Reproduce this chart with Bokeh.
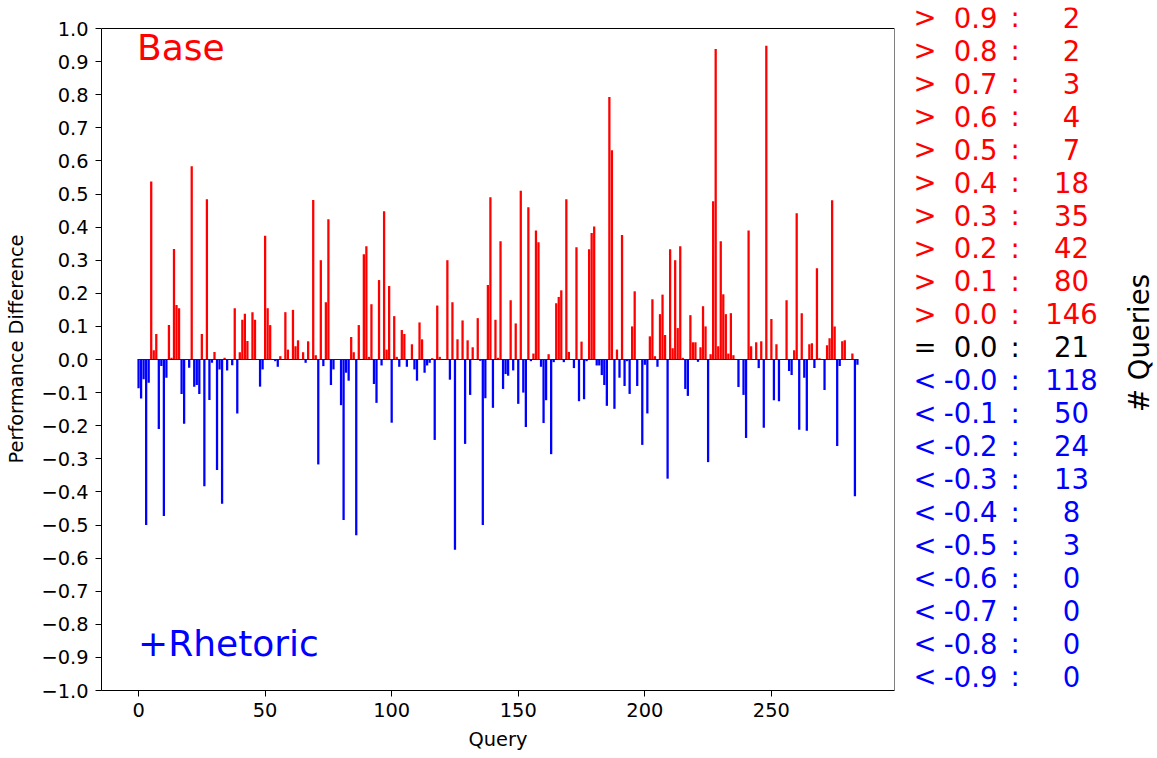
from bokeh.plotting import figure
from bokeh.models import Range1d, FixedTicker, CustomJSTickFormatter, Label, ColumnDataSource
from bokeh.layouts import row
from bokeh.embed import file_html
from bokeh.resources import INLINE
from bokeh.core.properties import value

# ---- data: performance difference per query (Base minus +Rhetoric) ----
diff = [
    -0.087, -0.118, -0.06, -0.50, -0.07, 0.538, 0.028, 0.077, -0.21, -0.02,
    -0.473, -0.055, 0.104, 0.005, 0.334, 0.165, 0.155, -0.104, -0.194, 0.0,
    -0.025, 0.584, -0.082, -0.077, -0.104, 0.077, -0.383, 0.484, -0.122, -0.01,
    0.023, -0.334, -0.03, -0.436, 0.005, -0.033, 0.0, -0.017, 0.155, -0.163,
    0.022, 0.12, 0.138, 0.056, 0.0, 0.143, 0.12, 0.0, -0.082, -0.03,
    0.374, 0.155, 0.104, 0.0, -0.005, -0.022, 0.01, 0.0, 0.143, 0.03,
    0.0, 0.15, 0.04, 0.058, 0.0, 0.022, -0.01, 0.055, 0.0, 0.482,
    0.013, -0.317, 0.30, -0.02, 0.173, 0.424, -0.077, -0.03, 0.0, 0.0,
    -0.138, -0.485, -0.04, -0.064, 0.068, 0.022, -0.531, 0.104, 0.0, 0.318,
    0.342, 0.008, 0.167, -0.074, -0.131, 0.24, -0.018, 0.448, 0.03, 0.222,
    -0.191, 0.131, 0.008, -0.022, 0.089, 0.077, -0.022, 0.0, 0.046, -0.03,
    -0.064, 0.112, 0.061, -0.04, -0.018, -0.01, 0.004, -0.243, 0.163, 0.008,
    0.0, 0.0, 0.30, -0.061, 0.173, -0.575, 0.061, 0.0, 0.118, -0.255,
    0.058, -0.107, 0.037, 0.0, 0.125, -0.004, -0.50, -0.117, 0.225, 0.49,
    -0.146, 0.12, 0.005, 0.357, -0.089, -0.044, -0.049, 0.179, -0.033, 0.109,
    -0.134, 0.51, -0.10, -0.204, 0.46, -0.005, 0.018, 0.39, 0.354, -0.022,
    -0.192, -0.123, 0.016, -0.286, -0.008, 0.17, 0.189, 0.209, -0.008, 0.484,
    0.023, 0.0, -0.026, 0.339, -0.126, 0.054, -0.12, -0.005, 0.333, 0.382,
    0.402, -0.018, -0.018, -0.047, -0.077, -0.14, 0.793, 0.632, -0.149, 0.03,
    -0.055, 0.376, -0.08, -0.005, -0.104, 0.10, 0.206, -0.08, 0.0, -0.258,
    -0.016, -0.163, 0.07, 0.182, 0.01, -0.022, 0.137, 0.196, 0.074, -0.36,
    0.333, 0.034, 0.30, 0.095, 0.342, 0.005, -0.089, -0.11, 0.134, 0.052,
    0.052, -0.007, 0.037, 0.161, 0.10, -0.31, 0.016, 0.478, 0.938, 0.04,
    0.357, 0.197, 0.137, 0.018, 0.14, 0.013, 0.0, -0.083, 0.0, -0.107,
    -0.237, 0.39, 0.04, 0.0, 0.052, -0.026, 0.055, -0.206, 0.948, 0.0,
    0.122, -0.123, 0.046, -0.126, 0.0, 0.0, 0.179, -0.035, -0.047, 0.028,
    0.442, -0.212, 0.14, -0.055, -0.215, 0.046, 0.049, -0.026, 0.276, 0.004,
    0.0, -0.092, 0.043, 0.064, 0.481, 0.10, -0.261, -0.02, 0.055, 0.058,
    0.0, 0.0, 0.018, -0.413, -0.016,
]
query = list(range(len(diff)))

y_ticks = [-1.0, -0.9, -0.8, -0.7, -0.6, -0.5, -0.4, -0.3, -0.2, -0.1, 0.0,
           0.1, 0.2, 0.3, 0.4, 0.5, 0.6, 0.7, 0.8, 0.9, 1.0]
x_ticks = [0, 50, 100, 150, 200, 250]

# ---- summary table on the right ----
signs = [">"] * 10 + ["="] + ["<"] * 10
thresholds = ["0.9", "0.8", "0.7", "0.6", "0.5", "0.4", "0.3", "0.2", "0.1", "0.0",
              "0.0",
              "-0.0", "-0.1", "-0.2", "-0.3", "-0.4", "-0.5", "-0.6", "-0.7", "-0.8", "-0.9"]
counts = [2, 2, 3, 4, 7, 18, 35, 42, 80, 146, 21, 118, 50, 24, 13, 8, 3, 0, 0, 0, 0]

RED = "#ff0000"
BLUE = "#0000ff"
FONT = "DejaVu Sans"

W, H = 1157, 758
MAIN_W = 900
X0, X1 = -14.64, 298.64
FL, FR = 101, 894          # frame left/right (page px)
FT, FB = 7, 690            # frame top/bottom (page px); y=1.0 sits at px 28
PX_PER_UNIT = (690 - 28) / 2.0
Y_TOP = 1.0 + (28 - FT) / PX_PER_UNIT


def px_x(px):
    return X0 + (px - FL) * (X1 - X0) / (FR - FL)


def px_y(py):
    return -1.0 + (FB - py) / PX_PER_UNIT


p = figure(width=MAIN_W, height=H,
           x_range=Range1d(X0, X1), y_range=Range1d(-1.0, Y_TOP),
           output_backend="svg", toolbar_location=None,
           min_border_left=FL, min_border_right=MAIN_W - FR,
           min_border_top=FT, min_border_bottom=H - FB)
p.background_fill_color = "white"
p.border_fill_color = "white"
p.outline_line_color = None
p.xgrid.visible = False
p.ygrid.visible = False

colors = [RED if v > 0 else BLUE for v in diff]
src = ColumnDataSource(dict(x=query, top=diff, color=colors))
p.vbar(x="x", top="top", bottom=0, width=0.9, fill_color="color", line_color=None, source=src)
p.line(x=[query[0] - 0.4, query[-1] + 0.4], y=[0, 0], line_color=BLUE, line_width=1)

# top and right spines of the axes box
p.segment(x0=[X0, X1], y0=[y_ticks[-1], y_ticks[0]], x1=[X1, X1], y1=[y_ticks[-1], y_ticks[-1]],
          line_color="black", line_width=1)

p.yaxis.ticker = FixedTicker(ticks=y_ticks)
p.xaxis.ticker = FixedTicker(ticks=x_ticks)
p.yaxis.bounds = (y_ticks[0], y_ticks[-1])
p.yaxis.formatter = CustomJSTickFormatter(code="""
const v = Math.round(tick * 10) / 10;
return (v < 0 ? '\u2212' : '') + Math.abs(v).toFixed(1);
""")
for ax in [p.xaxis[0], p.yaxis[0]]:
    ax.major_label_text_font = FONT
    ax.major_label_text_font_size = "19.4px"
    ax.major_label_text_color = "black"
    ax.axis_label_text_font = FONT
    ax.axis_label_text_font_size = "19.4px"
    ax.axis_label_text_font_style = "normal"
    ax.axis_label_text_color = "black"
    ax.axis_line_color = "black"
    ax.major_tick_line_color = "black"
    ax.major_tick_in = 0
    ax.major_tick_out = 6
    ax.minor_tick_line_color = None
p.xaxis.axis_label = "Query"
p.yaxis.axis_label = "Performance Difference"
p.yaxis.major_label_standoff = 7
p.xaxis.major_label_standoff = 6
p.yaxis.axis_label_standoff = 10
p.xaxis.axis_label_standoff = 8

p.add_layout(Label(x=px_x(136.5), y=px_y(62 - 15), text="Base", text_color=RED, text_font=FONT,
                   text_font_size="36px", text_baseline="alphabetic", text_align="left"))
p.add_layout(Label(x=px_x(137.5), y=px_y(658 - 15), text="+Rhetoric", text_color=BLUE, text_font=FONT,
                   text_font_size="36px", text_baseline="alphabetic", text_align="left"))

# ---------------- side table (separate figure, frame aligned with main) ----------------
s = figure(width=W - MAIN_W, height=H, x_range=Range1d(MAIN_W, W), y_range=Range1d(-1.0, Y_TOP),
           output_backend="svg", toolbar_location=None,
           min_border_left=0, min_border_right=0, min_border_top=FT, min_border_bottom=H - FB,
           x_axis_location=None, y_axis_location=None)
s.outline_line_color = None
s.background_fill_color = "white"
s.border_fill_color = "white"
s.grid.visible = False

FS = 27.5
shift = 0.42 * FS
n = len(counts)
line_y = [px_y(28.3 + 32.96 * i - shift) for i in range(n)]
tcolors = [RED] * 10 + ["black"] + [BLUE] * 10
tsrc = ColumnDataSource(dict(y=line_y, sign=signs, thr=thresholds,
                             cnt=[str(c) for c in counts], color=tcolors))
common = dict(y="y", text_color="color", text_font=value(FONT),
              text_font_size=value(f"{FS}px"), text_baseline="alphabetic", source=tsrc)
s.text(x=913, text="sign", text_align="left", **common)
s.text(x=997, text="thr", text_align="right", **common)
s.text(x=1010, text=value(":"), text_align="left", **common)
s.text(x=1071, text="cnt", text_align="center", **common)
s.text(x=[1150 - shift], y=[px_y(342.5)], text=["# Queries"], angle=1.5707963, text_color="black",
       text_font=value(FONT), text_font_size=value(f"{FS}px"),
       text_align="center", text_baseline="alphabetic")

layout = row(p, s)
open("out.html", "w").write(file_html(layout, INLINE))
